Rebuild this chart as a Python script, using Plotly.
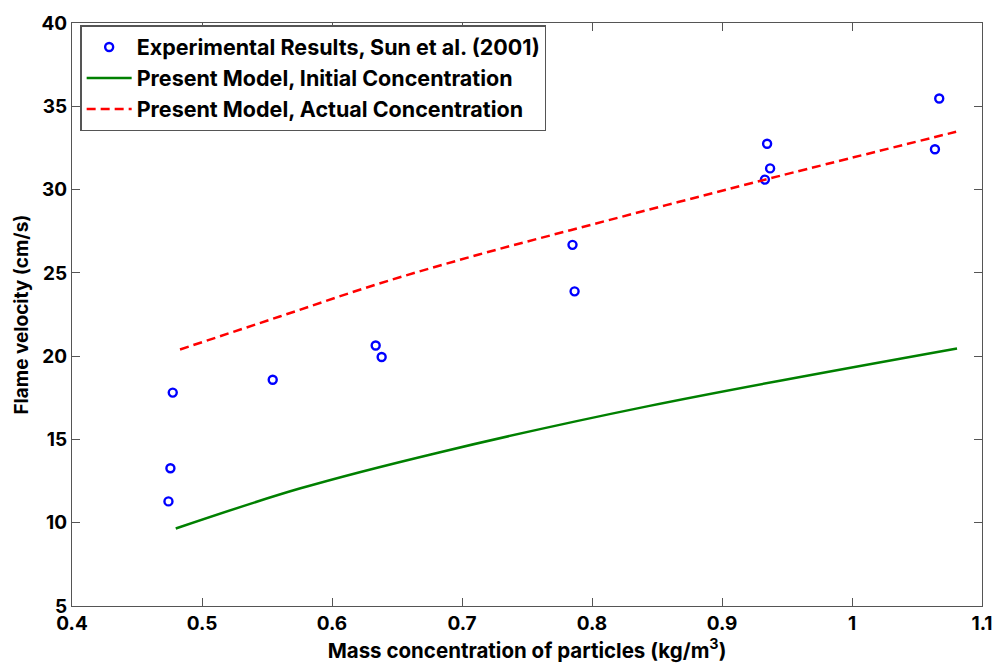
import plotly.graph_objects as go

# Experimental data (Sun et al. 2001)
exp_x = [0.4742, 0.4757, 0.4775, 0.5544, 0.6336, 0.6382, 0.7850, 0.7866,
         0.9347, 0.9370, 0.9330, 1.0671, 1.0638]
exp_y = [11.28, 13.27, 17.81, 18.58, 20.64, 19.95, 26.68, 23.89,
         32.75, 31.27, 30.60, 35.47, 32.42]

# Present model, initial concentration
init_x = [0.4798, 0.5751, 0.6824, 0.8433, 1.0808]
init_y = [9.65, 12.05, 14.22, 17.00, 20.46]

# Present model, actual concentration
act_x = [0.4831, 0.5598, 0.6364, 0.7130, 0.7897, 0.8663, 0.9429, 1.0801]
act_y = [20.40, 22.38, 24.36, 26.10, 27.69, 29.25, 30.79, 33.47]

x_ticks = [0.4, 0.5, 0.6, 0.7, 0.8, 0.9, 1.0, 1.1]
x_tick_text = ["0.4", "0.5", "0.6", "0.7", "0.8", "0.9", "1", "1.1"]
y_ticks = [5, 10, 15, 20, 25, 30, 35, 40]
y_tick_text = ["5", "10", "15", "20", "25", "30", "35", "40"]

FONT = "Inter"


def F(size=18):
    return dict(family=FONT, size=size, color="black", weight=700)


fig = go.Figure()
fig.add_trace(go.Scatter(
    x=exp_x, y=exp_y, mode="markers",
    name="Experimental Results, Sun et al. (2001)",
    marker=dict(symbol="circle-open", size=8, color="#0000FF",
                line=dict(width=2.4, color="#0000FF")),
))
fig.add_trace(go.Scatter(
    x=init_x, y=init_y, mode="lines", line_shape="spline",
    name="Present Model, Initial Concentration",
    line=dict(color="#008000", width=2.5),
))
fig.add_trace(go.Scatter(
    x=act_x, y=act_y, mode="lines", line_shape="spline",
    name="Present Model, Actual Concentration",
    line=dict(color="#FF0000", width=2.5, dash="9px,5px"),
))

axis_common = dict(
    showgrid=False, zeroline=False, showline=True, mirror="ticks",
    linecolor="#555555", linewidth=1.2, ticks="inside", ticklen=8,
    tickcolor="#555555", tickwidth=1.2,
    tickfont=F(19),
)

fig.update_layout(
    width=1005, height=670,
    margin=dict(l=72, r=20, t=17, b=64),
    paper_bgcolor="white", plot_bgcolor="white",
    font=F(18),
    xaxis=dict(range=[0.4, 1.1], tickvals=x_ticks, ticktext=x_tick_text,
               title=dict(text="Mass concentration of particles (kg/m<sup>3</sup>)",
                          font=F(20.5), standoff=3),
               **axis_common),
    yaxis=dict(range=[5, 40], tickvals=y_ticks, ticktext=y_tick_text,
               title=dict(text="Flame velocity (cm/s)", font=F(19), standoff=7),
               **axis_common),
    legend=dict(x=0.0093, y=0.996, xanchor="left", yanchor="top",
                bgcolor="white", bordercolor="#555555", borderwidth=1.2,
                font=F(21.5), itemwidth=45, tracegroupgap=0),
    showlegend=True,
)

fig.write_html("out.html")
